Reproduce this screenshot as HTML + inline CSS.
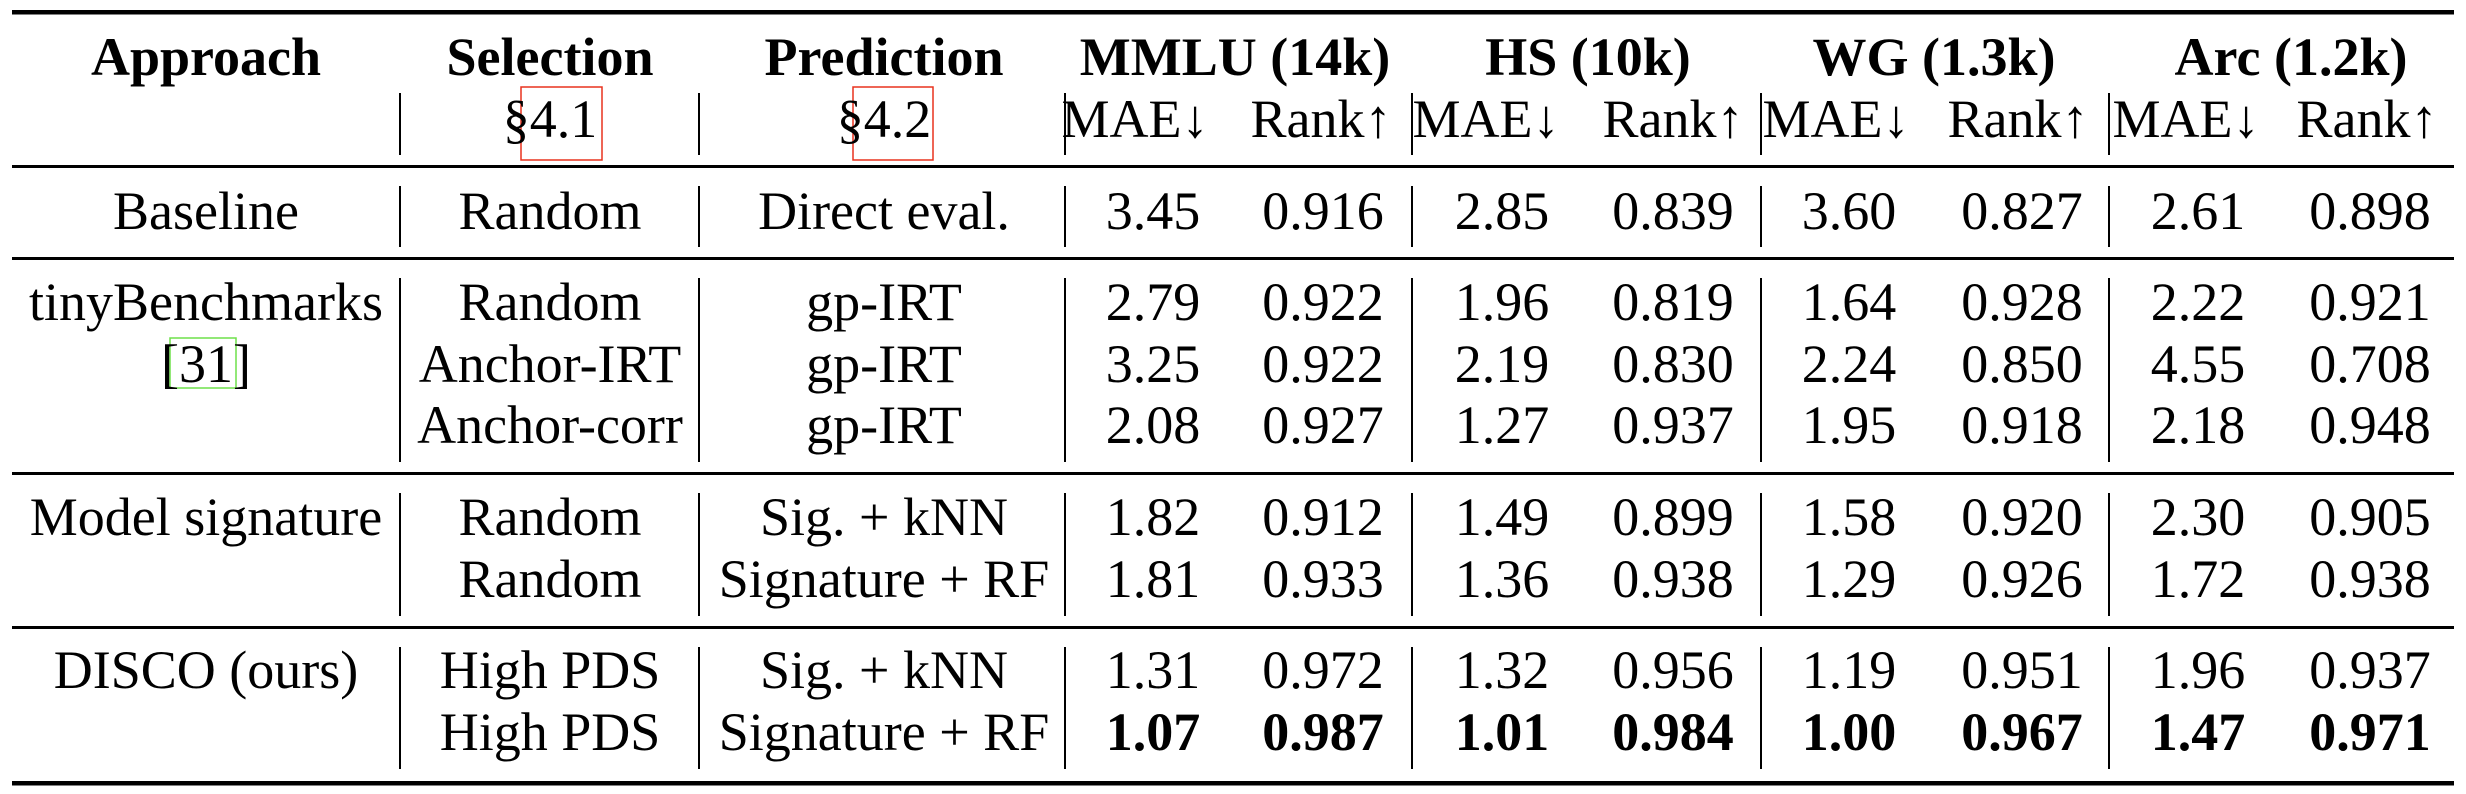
<!DOCTYPE html>
<html><head><meta charset="utf-8"><style>
html,body{margin:0;padding:0;background:#fff;}
svg{display:block}
text{font-family:"Liberation Serif",serif;font-size:54px;fill:#000;text-anchor:middle}
.b{font-weight:bold}
</style></head><body>
<svg width="2466" height="794" viewBox="0 0 2466 794">
<rect x="12" y="10" width="2442" height="4.5"/>
<rect x="12" y="165" width="2442" height="3"/>
<rect x="12" y="257" width="2442" height="3"/>
<rect x="12" y="472" width="2442" height="3"/>
<rect x="12" y="626" width="2442" height="3"/>
<rect x="12" y="781" width="2442" height="4.5"/>
<g fill="#000">
<rect x="399" y="93" width="2" height="62"/><rect x="698" y="93" width="2" height="62"/><rect x="1064" y="93" width="2" height="62"/><rect x="1411" y="93" width="2" height="62"/><rect x="1760" y="93" width="2" height="62"/><rect x="2108" y="93" width="2" height="62"/>
<rect x="399" y="186" width="2" height="61"/><rect x="698" y="186" width="2" height="61"/><rect x="1064" y="186" width="2" height="61"/><rect x="1411" y="186" width="2" height="61"/><rect x="1760" y="186" width="2" height="61"/><rect x="2108" y="186" width="2" height="61"/>
<rect x="399" y="278" width="2" height="184"/><rect x="698" y="278" width="2" height="184"/><rect x="1064" y="278" width="2" height="184"/><rect x="1411" y="278" width="2" height="184"/><rect x="1760" y="278" width="2" height="184"/><rect x="2108" y="278" width="2" height="184"/>
<rect x="399" y="493" width="2" height="123"/><rect x="698" y="493" width="2" height="123"/><rect x="1064" y="493" width="2" height="123"/><rect x="1411" y="493" width="2" height="123"/><rect x="1760" y="493" width="2" height="123"/><rect x="2108" y="493" width="2" height="123"/>
<rect x="399" y="647" width="2" height="122"/><rect x="698" y="647" width="2" height="122"/><rect x="1064" y="647" width="2" height="122"/><rect x="1411" y="647" width="2" height="122"/><rect x="1760" y="647" width="2" height="122"/><rect x="2108" y="647" width="2" height="122"/>
</g>
<rect x="521" y="87" width="81" height="73" fill="none" stroke="#e8321e" stroke-width="1.5"/>
<rect x="853" y="87" width="80" height="73" fill="none" stroke="#e8321e" stroke-width="1.5"/>
<rect x="170" y="338" width="66" height="50" fill="none" stroke="#6ee04a" stroke-width="1.5"/>

<g class="b">
<text class="b" x="206" y="75">Approach</text>
<text class="b" x="550" y="75">Selection</text>
<text class="b" x="884" y="75">Prediction</text>
<text class="b" x="1235" y="75">MMLU (14k)</text>
<text class="b" x="1588" y="75">HS (10k)</text>
<text class="b" x="1934" y="75">WG (1.3k)</text>
<text class="b" x="2291" y="75">Arc (1.2k)</text>
</g>
<text x="550" y="137">§4.1</text>
<text x="884" y="137">§4.2</text>
<text x="1135" y="137">MAE↓</text><text x="1321" y="137">Rank↑</text>
<text x="1486" y="137">MAE↓</text><text x="1673" y="137">Rank↑</text>
<text x="1836" y="137">MAE↓</text><text x="2018" y="137">Rank↑</text>
<text x="2186" y="137">MAE↓</text><text x="2367" y="137">Rank↑</text>

<text x="206" y="229">Baseline</text><text x="550" y="229">Random</text><text x="884" y="229">Direct eval.</text>
<text x="1153" y="229">3.45</text><text x="1323" y="229">0.916</text><text x="1502" y="229">2.85</text><text x="1673" y="229">0.839</text><text x="1849" y="229">3.60</text><text x="2022" y="229">0.827</text><text x="2198" y="229">2.61</text><text x="2370" y="229">0.898</text>

<text x="206" y="320">tinyBenchmarks</text><text x="550" y="320">Random</text><text x="884" y="320">gp-IRT</text>
<text x="1153" y="320">2.79</text><text x="1323" y="320">0.922</text><text x="1502" y="320">1.96</text><text x="1673" y="320">0.819</text><text x="1849" y="320">1.64</text><text x="2022" y="320">0.928</text><text x="2198" y="320">2.22</text><text x="2370" y="320">0.921</text>

<text x="206" y="382">[31]</text><text x="550" y="382">Anchor-IRT</text><text x="884" y="382">gp-IRT</text>
<text x="1153" y="382">3.25</text><text x="1323" y="382">0.922</text><text x="1502" y="382">2.19</text><text x="1673" y="382">0.830</text><text x="1849" y="382">2.24</text><text x="2022" y="382">0.850</text><text x="2198" y="382">4.55</text><text x="2370" y="382">0.708</text>

<text x="550" y="443">Anchor-corr</text><text x="884" y="443">gp-IRT</text>
<text x="1153" y="443">2.08</text><text x="1323" y="443">0.927</text><text x="1502" y="443">1.27</text><text x="1673" y="443">0.937</text><text x="1849" y="443">1.95</text><text x="2022" y="443">0.918</text><text x="2198" y="443">2.18</text><text x="2370" y="443">0.948</text>

<text x="206" y="535">Model signature</text><text x="550" y="535">Random</text><text x="884" y="535">Sig. + kNN</text>
<text x="1153" y="535">1.82</text><text x="1323" y="535">0.912</text><text x="1502" y="535">1.49</text><text x="1673" y="535">0.899</text><text x="1849" y="535">1.58</text><text x="2022" y="535">0.920</text><text x="2198" y="535">2.30</text><text x="2370" y="535">0.905</text>

<text x="550" y="597">Random</text><text x="884" y="597">Signature + RF</text>
<text x="1153" y="597">1.81</text><text x="1323" y="597">0.933</text><text x="1502" y="597">1.36</text><text x="1673" y="597">0.938</text><text x="1849" y="597">1.29</text><text x="2022" y="597">0.926</text><text x="2198" y="597">1.72</text><text x="2370" y="597">0.938</text>

<text x="206" y="688">DISCO (ours)</text><text x="550" y="688">High PDS</text><text x="884" y="688">Sig. + kNN</text>
<text x="1153" y="688">1.31</text><text x="1323" y="688">0.972</text><text x="1502" y="688">1.32</text><text x="1673" y="688">0.956</text><text x="1849" y="688">1.19</text><text x="2022" y="688">0.951</text><text x="2198" y="688">1.96</text><text x="2370" y="688">0.937</text>

<text x="550" y="750">High PDS</text><text x="884" y="750">Signature + RF</text>
<text class="b" x="1153" y="750">1.07</text><text class="b" x="1323" y="750">0.987</text><text class="b" x="1502" y="750">1.01</text><text class="b" x="1673" y="750">0.984</text><text class="b" x="1849" y="750">1.00</text><text class="b" x="2022" y="750">0.967</text><text class="b" x="2198" y="750">1.47</text><text class="b" x="2370" y="750">0.971</text>
</svg>
</body></html>
